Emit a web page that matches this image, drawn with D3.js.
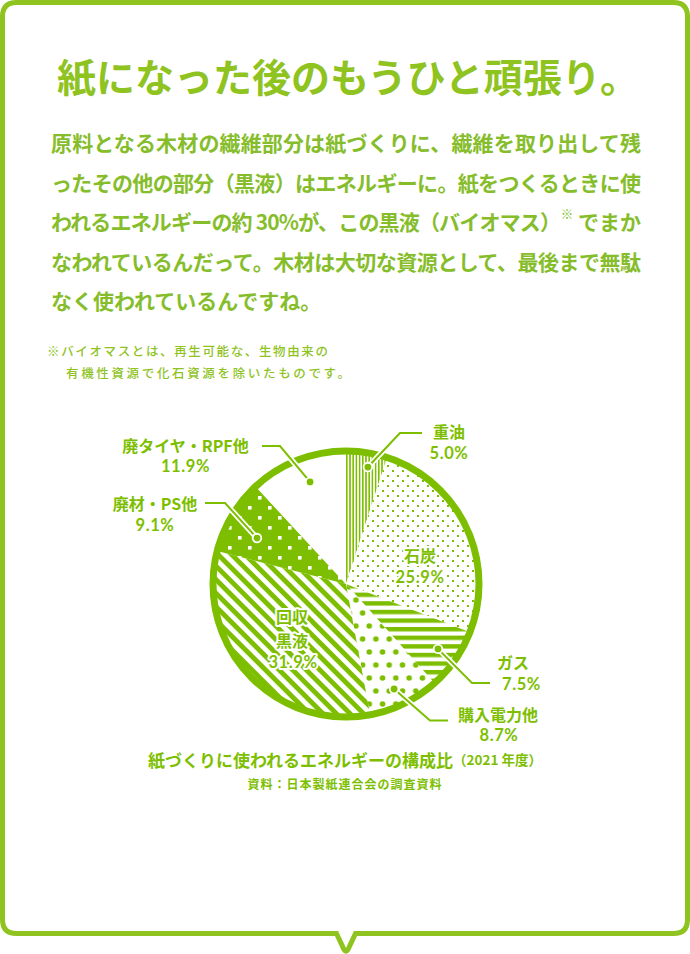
<!DOCTYPE html>
<html><head><meta charset="utf-8">
<script src="https://cdn.jsdelivr.net/npm/d3@7"></script>
<style>
html,body{margin:0;padding:0;background:#fff;}
svg{display:block;}
text{font-family:"Noto Sans CJK JP","Noto Sans CJK SC",sans-serif;}
</style></head><body>
<svg id="c" width="690" height="954"></svg>
<script>
// ---------- data ----------
const categories = ["重油", "石炭", "ガス", "購入電力他", "回収黒液", "廃材・PS他", "廃タイヤ・RPF他"];
const values = [5.0, 25.9, 7.5, 8.7, 31.9, 9.1, 11.9];
const nameLines = [["重油"], ["石炭"], ["ガス"], ["購入電力他"], ["回収", "黒液"], ["廃材・PS他"], ["廃タイヤ・RPF他"]];
const valueLabels = values.map(v => v.toFixed(1) + "%");
const titleText = "紙になった後のもうひと頑張り。";
const bodyLines = [
  "原料となる木材の繊維部分は紙づくりに、繊維を取り出して残",
  "ったその他の部分（黒液）はエネルギーに。紙をつくるときに使",
  "われるエネルギーの約 30%が、この黒液（バイオマス）",
  "なわれているんだって。木材は大切な資源として、最後まで無駄",
  "なく使われているんですね。"
];
const bodyLine3Tail = "でまか";
const noteLines = ["※バイオマスとは、再生可能な、生物由来の", "有機性資源で化石資源を除いたものです。"];
const captionMain = "紙づくりに使われるエネルギーの構成比";
const captionYear = "（2021 年度）";
const sourceText = "資料：日本製紙連合会の調査資料";

// ---------- style / layout ----------
const G = "#7dbf00", FRAME = "#8fc31f", BODY = "#86bd2b", NOTE = "#8fc31f";
const patternIds = ["vstripe", "smalldot", "hstripe", "bigdot", "dstripe", "square", null];
const cx = 346, cy = 584, R = 133;
const labelLayout = [
  {pos: [[449, 431], [449, 452.5]], anchor: "middle", leader: {a: 10.6, r: 119, pts: [[400, 433], [422, 433]]}},
  {pos: [[420, 555], [420, 577]], anchor: "middle", halo: true},
  {pos: [[497, 661.5], [502, 684]], anchor: "start", leader: {a: 125.2, r: 112.6, pts: [[472, 683], [490, 683]]}},
  {pos: [[498, 713.5], [499, 735]], anchor: "middle", leader: {a: 155.4, r: 115.5, pts: [[430, 720.5], [448, 720.5]]}},
  {pos: [[292, 616], [292, 639.5], [293, 661.5]], anchor: "middle", halo: true},
  {pos: [[155, 503], [155, 524.5]], anchor: "middle", leader: {a: 297.3, r: 100.2, pts: [[225, 503], [205, 503]]}},
  {pos: [[185.5, 444.5], [185.5, 466]], anchor: "middle", leader: {a: 340.6, r: 108.2, pts: [[280, 446], [262, 446]]}}
];

const svg = d3.select("#c");

// frame (speech bubble)
svg.append("path")
  .attr("d", "M16.5,2.5 H673.5 Q687.5,2.5 687.5,16.5 V919.5 Q687.5,933.5 673.5,933.5 H355.5 L348,949.5 Q346,953 344,949.5 L336.5,933.5 H16.5 Q2.5,933.5 2.5,919.5 V16.5 Q2.5,2.5 16.5,2.5 Z")
  .attr("fill", "#fff").attr("stroke", FRAME).attr("stroke-width", 5);

// title
svg.append("text").attr("x", 57).attr("y", 75)
  .attr("dominant-baseline", "central")
  .attr("font-size", 39).attr("font-weight", 700).attr("fill", FRAME)
  .text(titleText);

// body
const bodyY = [142, 181.5, 221, 260.5, 300];
bodyLines.forEach((t, i) => {
  const el = svg.append("text").attr("x", 51).attr("y", bodyY[i])
    .attr("dominant-baseline", "central")
    .attr("font-size", 21).attr("font-weight", 700).attr("fill", BODY)
    .text(t);
  if (i < 2 || i === 3) el.attr("textLength", 590).attr("lengthAdjust", "spacing");
  if (i === 2) el.attr("textLength", 510).attr("lengthAdjust", "spacing");
});
svg.append("text").attr("x", 567).attr("y", 213).attr("text-anchor", "middle")
  .attr("dominant-baseline", "central").attr("font-size", 12.5).attr("fill", BODY).text("※");
svg.append("text").attr("x", 641).attr("y", bodyY[2]).attr("text-anchor", "end")
  .attr("dominant-baseline", "central")
  .attr("font-size", 21).attr("font-weight", 700).attr("fill", BODY).text(bodyLine3Tail);

// note
const noteX = [47, 66], noteY = [350, 372], noteW = [281, 284];
noteLines.forEach((t, i) => {
  svg.append("text").attr("x", noteX[i]).attr("y", noteY[i])
    .attr("dominant-baseline", "central")
    .attr("font-size", 12.5).attr("font-weight", 500).attr("fill", NOTE)
    .attr("textLength", noteW[i]).attr("lengthAdjust", "spacing")
    .text(t);
});

// patterns
const defs = svg.append("defs");
function pattern(id, w, h, transform) {
  const p = defs.append("pattern").attr("id", id).attr("patternUnits", "userSpaceOnUse")
    .attr("width", w).attr("height", h);
  if (transform) p.attr("patternTransform", transform);
  p.append("rect").attr("width", w).attr("height", h).attr("fill", "#fff");
  return p;
}
let p = pattern("vstripe", 3.2, 10);
p.append("rect").attr("x", 0).attr("width", 1.6).attr("height", 10).attr("fill", G);
p = pattern("smalldot", 10, 10);
p.append("rect").attr("x", 1).attr("y", 1).attr("width", 2).attr("height", 2).attr("fill", G);
p.append("rect").attr("x", 6).attr("y", 6).attr("width", 2).attr("height", 2).attr("fill", G);
p = pattern("hstripe", 10, 8.6);
p.append("rect").attr("y", 0).attr("width", 10).attr("height", 4.4).attr("fill", G);
p = pattern("bigdot", 13.3, 26);
p.append("circle").attr("cx", 3.3).attr("cy", 3).attr("r", 2.8).attr("fill", G);
p.append("circle").attr("cx", 9.95).attr("cy", 16).attr("r", 2.8).attr("fill", G);
p = pattern("dstripe", 10, 9.6, "rotate(45)");
p.append("rect").attr("width", 10).attr("height", 4.9).attr("fill", G);
p = pattern("square", 20, 20);
p.select("rect").attr("fill", G);
p.append("rect").attr("x", 2).attr("y", 2).attr("width", 3.6).attr("height", 3.6).attr("fill", "#fff");
p.append("rect").attr("x", 12).attr("y", 12).attr("width", 3.6).attr("height", 3.6).attr("fill", "#fff");

// pie
const pieGen = d3.pie().sort(null).value(d => d);
const arcs = pieGen(values);
const arcGen = d3.arc().innerRadius(0).outerRadius(R);
const gPie = svg.append("g").attr("transform", `translate(${cx},${cy})`);
gPie.selectAll("path.slice").data(arcs).join("path")
  .attr("class", "slice")
  .attr("d", arcGen)
  .attr("fill", (d, i) => patternIds[i] ? `url(#${patternIds[i]})` : "#fff");
gPie.append("circle").attr("r", R).attr("fill", "none").attr("stroke", G).attr("stroke-width", 7);

// leaders
const gLead = svg.append("g");
labelLayout.forEach((L, i) => {
  if (!L.leader) return;
  const a = L.leader.a * Math.PI / 180;
  const dot = [cx + L.leader.r * Math.sin(a), cy - L.leader.r * Math.cos(a)];
  const pts = [dot, ...L.leader.pts];
  const line = d3.line();
  gLead.append("path").attr("d", line(pts)).attr("fill", "none")
    .attr("stroke", "#fff").attr("stroke-width", 5.5).attr("stroke-linejoin", "round");
  gLead.append("path").attr("d", line(pts)).attr("fill", "none")
    .attr("stroke", G).attr("stroke-width", 2);
  gLead.append("circle").attr("cx", dot[0]).attr("cy", dot[1]).attr("r", 4.3)
    .attr("fill", G).attr("stroke", "#fff").attr("stroke-width", 1.8);
});

// labels
const gLab = svg.append("g");
categories.forEach((c, i) => {
  const L = labelLayout[i];
  const lines = [...nameLines[i], valueLabels[i]];
  lines.forEach((t, j) => {
    const isVal = j === lines.length - 1;
    const el = gLab.append("text")
      .attr("x", L.pos[j][0]).attr("y", L.pos[j][1])
      .attr("text-anchor", L.anchor)
      .attr("dominant-baseline", "central")
      .attr("font-weight", 700).attr("fill", G)
      .attr("font-size", isVal ? 16.5 : 16)
      .attr("letter-spacing", isVal ? 0.6 : 0)
      .style("font-family", isVal ? "Lato, 'Open Sans', sans-serif" : null)
      .text(t);
    if (L.halo) el.attr("stroke", "#fff").attr("stroke-width", 4).attr("paint-order", "stroke").attr("stroke-linejoin", "round");
  });
});

// caption
const cap = svg.append("text").attr("x", 345).attr("y", 759).attr("text-anchor", "middle")
  .attr("dominant-baseline", "central").attr("font-weight", 700).attr("fill", G);
cap.append("tspan").attr("font-size", 17).text(captionMain);
cap.append("tspan").attr("font-size", 13.5).text(captionYear);
svg.append("text").attr("x", 345).attr("y", 783).attr("text-anchor", "middle")
  .attr("dominant-baseline", "central").attr("font-size", 12).attr("font-weight", 700)
  .attr("letter-spacing", 1).attr("fill", G).text(sourceText);
</script>
</body></html>
